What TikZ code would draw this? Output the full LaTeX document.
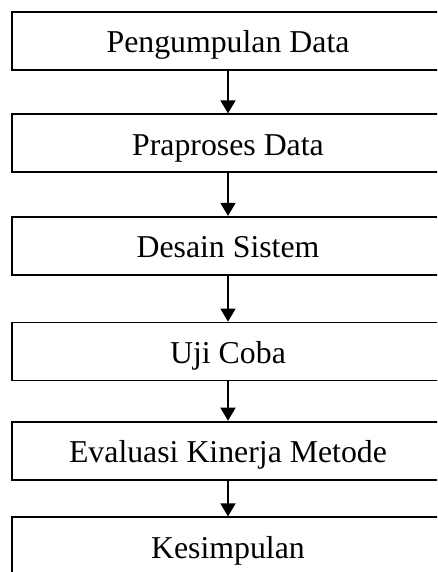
\documentclass[tikz,border=0pt]{standalone}
\usepackage{fontspec}
\setmainfont{Liberation Serif}
\usetikzlibrary{arrows.meta}

\begin{document}
\begin{tikzpicture}[x=1pt, y=-1pt,
  stepbox/.style={draw, line width=1.8pt, minimum width=432pt, minimum height=58pt,
    inner sep=0pt, font=\fontsize{31.8}{36}\selectfont,
    text height=24pt, text depth=0pt},
  flow/.style={line width=1.6pt, -{Triangle[width=15pt,length=13pt]}}]
  \useasboundingbox (0,0) rectangle (437,572);
  \fill[white] (0,0) rectangle (437,572);
  \clip (0,0) rectangle (437,572);

  % process steps, top to bottom
  \node[stepbox] (s1) at (228,40.8)  {Pengumpulan Data};
  \node[stepbox] (s2) at (228,143.3) {Praproses Data};
  \node[stepbox] (s3) at (228,245.8) {Desain Sistem};
  \node[stepbox] (s4) at (228,351.5) {Uji Coba};
  \node[stepbox] (s5) at (228,450.6) {Evaluasi Kinerja Metode};
  \node[stepbox] (s6) at (228,546.3) {Kesimpulan};

  % connectors between consecutive steps
  \draw[flow] (s1) -- (s2);
  \draw[flow] (s2) -- (s3);
  \draw[flow] (s3) -- (s4);
  \draw[flow] (s4) -- (s5);
  \draw[flow] (s5) -- (s6);
\end{tikzpicture}
\end{document}
